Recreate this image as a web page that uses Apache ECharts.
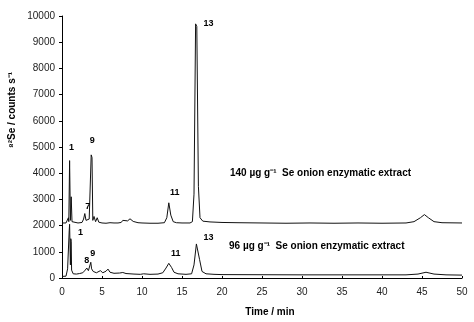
<!DOCTYPE html>
<html>
<head>
<meta charset="utf-8">
<script src="https://cdn.jsdelivr.net/npm/echarts@6/dist/echarts.min.js"></script>
<style>
  html, body { margin: 0; padding: 0; background: #fff; }
  #chart { width: 474px; height: 322px; }
</style>
</head>
<body>
<div id="chart"></div>
<script>
// Chromatogram traces: [retention time (min), counts s^-1]
const trace140 = [
  [0, 2100], [0.5, 2100], [0.7, 2120], [0.8, 2300], [0.85, 2150], [0.9, 2200],
  [0.95, 4480], [1.0, 4450], [1.05, 2200], [1.15, 3100], [1.25, 2150], [1.5, 2100],
  [2.0, 2100], [2.5, 2120], [2.7, 2250], [2.85, 2460], [3.0, 2200], [3.2, 2150],
  [3.4, 2250], [3.55, 2200], [3.65, 4700], [3.75, 4600], [3.85, 2200], [4.0, 2350],
  [4.2, 2150], [4.4, 2300], [4.6, 2130], [5, 2100], [5.5, 2090], [6, 2110], [6.5, 2100],
  [7, 2100], [7.4, 2120], [7.6, 2200], [7.8, 2130], [8.2, 2180], [8.5, 2260], [8.9, 2160],
  [9.5, 2110], [10, 2100], [11, 2090], [12, 2090], [12.8, 2110], [13.1, 2300],
  [13.35, 2870], [13.6, 2400], [13.9, 2150], [14.3, 2110], [15, 2100], [16, 2100],
  [16.3, 2150], [16.5, 3200], [16.7, 9700], [16.85, 9600], [17.05, 3500], [17.25, 2300],
  [17.6, 2170], [18.5, 2140], [20, 2120], [22, 2110], [25, 2100], [28, 2090], [31, 2100],
  [34, 2090], [37, 2100], [40, 2090], [43, 2100], [44, 2150], [44.8, 2300], [45.3, 2420],
  [45.8, 2300], [46.5, 2150], [47.5, 2110], [50, 2100]
];

const trace96 = [
  [0, 60], [0.5, 70], [0.65, 80], [0.7, 350], [0.8, 300], [0.9, 1800], [0.95, 2050],
  [1.0, 2000], [1.05, 500], [1.1, 1500], [1.15, 1400], [1.2, 300], [1.4, 160], [1.8, 150],
  [2.2, 170], [2.6, 200], [2.9, 300], [3.1, 380], [3.3, 280], [3.45, 330], [3.6, 600],
  [3.7, 350], [3.9, 250], [4.3, 200], [4.8, 280], [5.1, 200], [5.5, 260], [5.75, 340],
  [6.0, 220], [6.5, 180], [7.2, 190], [7.6, 210], [8, 170], [9, 150], [9.8, 140],
  [10.2, 160], [11, 140], [12, 150], [12.6, 200], [13.0, 380], [13.35, 560], [13.7, 400],
  [14.0, 220], [14.5, 160], [15.5, 140], [16.2, 160], [16.5, 500], [16.8, 1300],
  [16.95, 1350], [17.2, 700], [17.5, 250], [18, 160], [19, 140], [20, 130], [25, 125],
  [30, 120], [35, 120], [40, 120], [43, 120], [44.5, 150], [45.5, 220], [46.5, 150],
  [48, 120], [50, 110]
];

// Numbered peaks: [label, time, apex value]
const peaks140 = [['1', 0.95, 4480], ['7', 2.85, 2460], ['9', 3.65, 4700], ['11', 13.35, 2870], ['13', 16.7, 9700]];
const peaks96 = [['1', 0.95, 2050], ['8', 3.1, 380], ['9', 3.6, 600], ['11', 13.35, 560], ['13', 16.95, 1350]];

// Label nudges (px) relative to each apex
const nudge140 = { '1': [2, -13], '7': [3, -7], '9': [1, -14], '11': [6, -10], '13': [13, 0] };
const nudge96 = { '1': [11, 8], '8': [0, -8], '9': [2, -9], '11': [7, -10], '13': [11, -5] };

const xTicks = { min: 0, max: 50, step: 5 };
const yTicks = { min: 0, max: 10000, step: 1000 };

const sampleNames = ['140 \u00b5g g\u207b\u00b9  Se onion enzymatic extract', '96 \u00b5g g\u207b\u00b9  Se onion enzymatic extract'];

const FONT = 'Liberation Sans, Arial, sans-serif';

function peakMarks(peaks, nudge) {
  return {
    symbol: 'circle',
    symbolSize: 0,
    silent: true,
    label: {
      show: true,
      position: 'inside',
      color: '#000',
      fontFamily: FONT,
      fontWeight: 'bold',
      fontSize: 9
    },
    data: peaks.map(p => ({
      name: p[0],
      coord: [p[1], p[2]],
      label: { formatter: p[0], offset: nudge[p[0]] }
    }))
  };
}

const chart = echarts.init(document.getElementById('chart'), null, { renderer: 'canvas' });

chart.setOption({
  animation: false,
  backgroundColor: '#fff',
  grid: { left: 62, right: 12, top: 16, bottom: 42, containLabel: false },
  xAxis: {
    type: 'value',
    min: xTicks.min,
    max: xTicks.max,
    interval: xTicks.step,
    name: 'Time / min',
    nameLocation: 'middle',
    nameGap: 29,
    nameTextStyle: { color: '#000', fontFamily: FONT, fontSize: 10, fontWeight: 'bold', padding: [0, 0, 0, 16] },
    axisLine: { lineStyle: { color: '#000', width: 1 } },
    axisTick: { show: true, inside: true, length: 2, lineStyle: { color: '#000' } },
    axisLabel: { color: '#222', fontFamily: FONT, fontSize: 10, margin: 9 },
    splitLine: { show: false }
  },
  yAxis: {
    type: 'value',
    min: yTicks.min,
    max: yTicks.max,
    interval: yTicks.step,
    axisLine: { show: true, lineStyle: { color: '#000', width: 1 } },
    axisTick: { show: true, inside: false, length: 3, lineStyle: { color: '#000' } },
    axisLabel: { color: '#222', fontFamily: FONT, fontSize: 10, margin: 7, formatter: v => String(v) },
    splitLine: { show: false }
  },
  graphic: [
    {
      type: 'text',
      x: 12,
      y: 110,
      rotation: Math.PI / 2,
      style: {
        text: '\u2078\u00b2Se / counts s\u207b\u00b9',
        fill: '#000',
        font: 'bold 10px ' + FONT,
        textAlign: 'center',
        textVerticalAlign: 'middle'
      }
    },
    {
      type: 'text',
      left: 230,
      top: 168,
      style: { text: sampleNames[0], fill: '#000', font: 'bold 10px ' + FONT }
    },
    {
      type: 'text',
      left: 229,
      top: 241,
      style: { text: sampleNames[1], fill: '#000', font: 'bold 10px ' + FONT }
    }
  ],
  series: [
    {
      name: sampleNames[0],
      type: 'line',
      data: trace140,
      showSymbol: false,
      lineStyle: { color: '#111', width: 1 },
      markPoint: peakMarks(peaks140, nudge140)
    },
    {
      name: sampleNames[1],
      type: 'line',
      data: trace96,
      showSymbol: false,
      lineStyle: { color: '#111', width: 1 },
      markPoint: peakMarks(peaks96, nudge96)
    }
  ]
});
</script>
</body>
</html>
